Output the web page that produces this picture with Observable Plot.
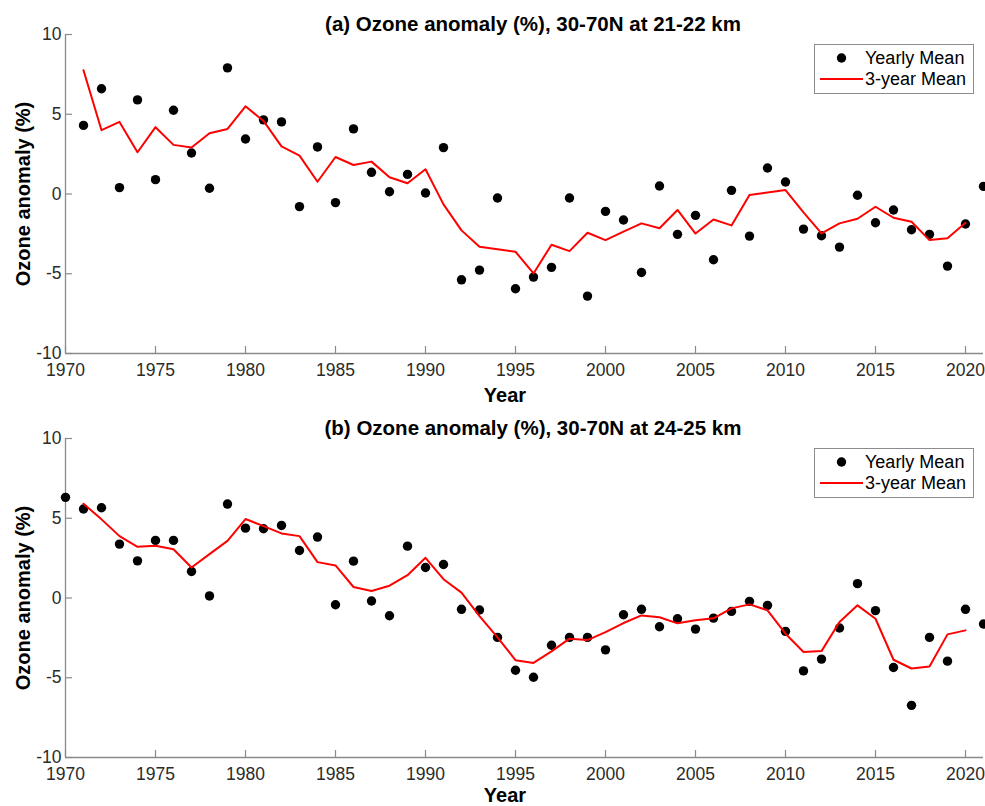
<!DOCTYPE html>
<html>
<head>
<meta charset="utf-8">
<script src="https://cdn.jsdelivr.net/npm/d3@7"></script>
<script src="https://cdn.jsdelivr.net/npm/@observablehq/plot@0.6"></script>
<style>
  html, body { margin: 0; padding: 0; background: #fff; }
  #root { position: relative; width: 985px; height: 806px; overflow: hidden; background: #fff;
          font-family: "Liberation Sans", Arial, Helvetica, sans-serif; }
  .panel { position: absolute; left: 0; width: 985px; }
  .panel svg { position: absolute; left: 0; top: 0; }
  .title { position: absolute; left: 533px; transform: translate(-50%, -50%); white-space: nowrap;
           font-weight: bold; font-size: 20.5px; line-height: 1; color: #000; }
  .xlabel { position: absolute; left: 505px; transform: translate(-50%, -50%); white-space: nowrap;
            font-weight: bold; font-size: 20px; line-height: 1; color: #000; }
  .ylabel { position: absolute; left: 23px; transform: translate(-50%, -50%) rotate(-90deg); white-space: nowrap;
            font-weight: bold; font-size: 20px; line-height: 1; color: #000; }
  .legend { position: absolute; left: 814px; width: 158px; height: 48px; border: 1px solid #8c8c8c; background: #fff; }
  .legend .t { position: absolute; left: 50px; font-size: 18px; line-height: 1; color: #000; transform: translateY(-50%); white-space: nowrap; }
  .legend svg { position: absolute; left: 0; top: 0; }
</style>
</head>
<body>
<div id="root"></div>
<script>
// ---- data ----
const xDomain = [1970, 2021];
const yDomain = [-10, 10];
const xTicks = [1970, 1975, 1980, 1985, 1990, 1995, 2000, 2005, 2010, 2015, 2020];
const yTicks = [-10, -5, 0, 5, 10];

const titleA = "(a) Ozone anomaly (%), 30-70N at 21-22 km";
const titleB = "(b) Ozone anomaly (%), 30-70N at 24-25 km";
const xLabel = "Year";
const yLabel = "Ozone anomaly (%)";
const legendLabels = ["Yearly Mean", "3-year Mean"];

const yearsA = d3.range(1971, 2022);
const yearlyA = [4.3, 6.6, 0.4, 5.9, 0.9, 5.25, 2.57, 0.36, 7.91, 3.45,
  4.65, 4.52, -0.79, 2.95, -0.54, 4.08, 1.36, 0.14, 1.23, 0.06,
  2.91, -5.38, -4.77, -0.25, -5.94, -5.21, -4.6, -0.25, -6.4, -1.09,
  -1.63, -4.92, 0.5, -2.53, -1.34, -4.12, 0.23, -2.64, 1.63, 0.75,
  -2.2, -2.62, -3.33, -0.08, -1.8, -1.0, -2.24, -2.53, -4.52, -1.88,
  0.48];
const meanYearsA = d3.range(1971, 2021);
const mean3A = [7.76, 4.0, 4.52, 2.62, 4.19, 3.08, 2.91, 3.81, 4.08, 5.5,
  4.58, 2.99, 2.41, 0.77, 2.32, 1.82, 2.03, 1.05, 0.67, 1.55,
  -0.65, -2.28, -3.31, -3.47, -3.62, -4.98, -3.18, -3.58, -2.43, -2.89,
  -2.36, -1.84, -2.15, -1.0, -2.48, -1.6, -1.97, -0.06, 0.1, 0.25,
  -1.15, -2.47, -1.84, -1.55, -0.8, -1.49, -1.74, -2.89, -2.78, -1.8];

const yearsB = d3.range(1970, 2022);
const yearlyB = [6.31, 5.58, 5.66, 3.38, 2.33, 3.61, 3.61, 1.66, 0.13, 5.89,
  4.38, 4.34, 4.55, 2.98, 3.82, -0.42, 2.31, -0.19, -1.11, 3.25,
  1.91, 2.1, -0.71, -0.75, -2.47, -4.53, -4.97, -2.96, -2.47, -2.47,
  -3.25, -1.05, -0.71, -1.8, -1.3, -1.95, -1.26, -0.84, -0.21, -0.46,
  -2.09, -4.57, -3.83, -1.88, 0.9, -0.79, -4.36, -6.73, -2.47, -3.96,
  -0.71, -1.63];
const meanYearsB = d3.range(1971, 2021);
const mean3B = [5.91, 4.93, 3.88, 3.21, 3.27, 3.06, 1.91, 2.75, 3.58, 4.95,
  4.51, 4.05, 3.88, 2.25, 2.04, 0.69, 0.44, 0.77, 1.43, 2.52,
  1.18, 0.34, -1.13, -2.47, -3.9, -4.07, -3.35, -2.55, -2.64, -2.14,
  -1.57, -1.09, -1.21, -1.59, -1.4, -1.27, -0.65, -0.4, -0.77, -2.24,
  -3.39, -3.33, -1.51, -0.46, -1.3, -3.87, -4.42, -4.3, -2.28, -2.03];

// ---- drawing ----
const W = 985, ML = 65, MR = 2, MT = 34, PH = 319;
const axisColor = "#8a8a8a";

function makePanel(top, H, title, years, yearly, meanYears, mean3, titleY, xlabelY) {
  const root = document.getElementById("root");
  const div = document.createElement("div");
  div.className = "panel";
  div.style.top = top + "px";
  div.style.height = H + "px";
  const dots = years.map((yr, i) => ({year: yr, v: yearly[i]}));
  const line = meanYears.map((yr, i) => ({year: yr, v: mean3[i]}));
  const pw = W - ML - MR;
  const svg = Plot.plot({
    width: W,
    height: H,
    marginLeft: ML,
    marginRight: MR,
    marginTop: MT,
    marginBottom: H - MT - PH,
    style: {fontFamily: '"Liberation Sans", Arial, Helvetica, sans-serif', fontSize: "17.5px", color: "#2b2b2b", background: "transparent"},
    x: {domain: xDomain, ticks: xTicks, tickSize: 0, tickPadding: 10, tickFormat: d => String(d), label: null},
    y: {domain: yDomain, ticks: yTicks, tickSize: 0, tickPadding: 4, tickFormat: d => String(d), label: null},
    marks: [
      Plot.ruleX([xDomain[0]], {stroke: axisColor, strokeWidth: 1.3}),
      Plot.ruleY([yDomain[0]], {stroke: axisColor, strokeWidth: 1.3}),
      Plot.ruleX(xTicks, {x: d => d, stroke: axisColor, strokeWidth: 1.2, insetTop: PH - 7}),
      Plot.ruleY(yTicks, {y: d => d, stroke: axisColor, strokeWidth: 1.2, insetRight: pw - 7}),
      Plot.dot(dots, {x: "year", y: "v", r: 4.7, fill: "black", stroke: "none"}),
      Plot.line(line, {x: "year", y: "v", stroke: "#ff0000", strokeWidth: 2})
    ]
  });
  div.appendChild(svg);

  const t = document.createElement("div");
  t.className = "title"; t.textContent = title; t.style.top = titleY + "px";
  div.appendChild(t);

  const xl = document.createElement("div");
  xl.className = "xlabel"; xl.textContent = xLabel; xl.style.top = xlabelY + "px";
  div.appendChild(xl);

  const yl = document.createElement("div");
  yl.className = "ylabel"; yl.textContent = yLabel; yl.style.top = (MT + PH / 2) + "px";
  div.appendChild(yl);

  const lg = document.createElement("div");
  lg.className = "legend"; lg.style.top = (MT + 10) + "px";
  lg.innerHTML = '<svg width="158" height="48"><circle cx="26.5" cy="13" r="4.7" fill="black"/>' +
    '<line x1="5" x2="48" y1="34" y2="34" stroke="#ff0000" stroke-width="2"/></svg>';
  const t1 = document.createElement("span");
  t1.className = "t"; t1.style.top = "13px"; t1.textContent = legendLabels[0];
  const t2 = document.createElement("span");
  t2.className = "t"; t2.style.top = "34px"; t2.textContent = legendLabels[1];
  lg.appendChild(t1); lg.appendChild(t2);
  div.appendChild(lg);

  root.appendChild(div);
}

makePanel(0, 404, titleA, yearsA, yearlyA, meanYearsA, mean3A, 24, 395);
makePanel(404, 402, titleB, yearsB, yearlyB, meanYearsB, mean3B, 24, 391);
</script>
</body>
</html>
